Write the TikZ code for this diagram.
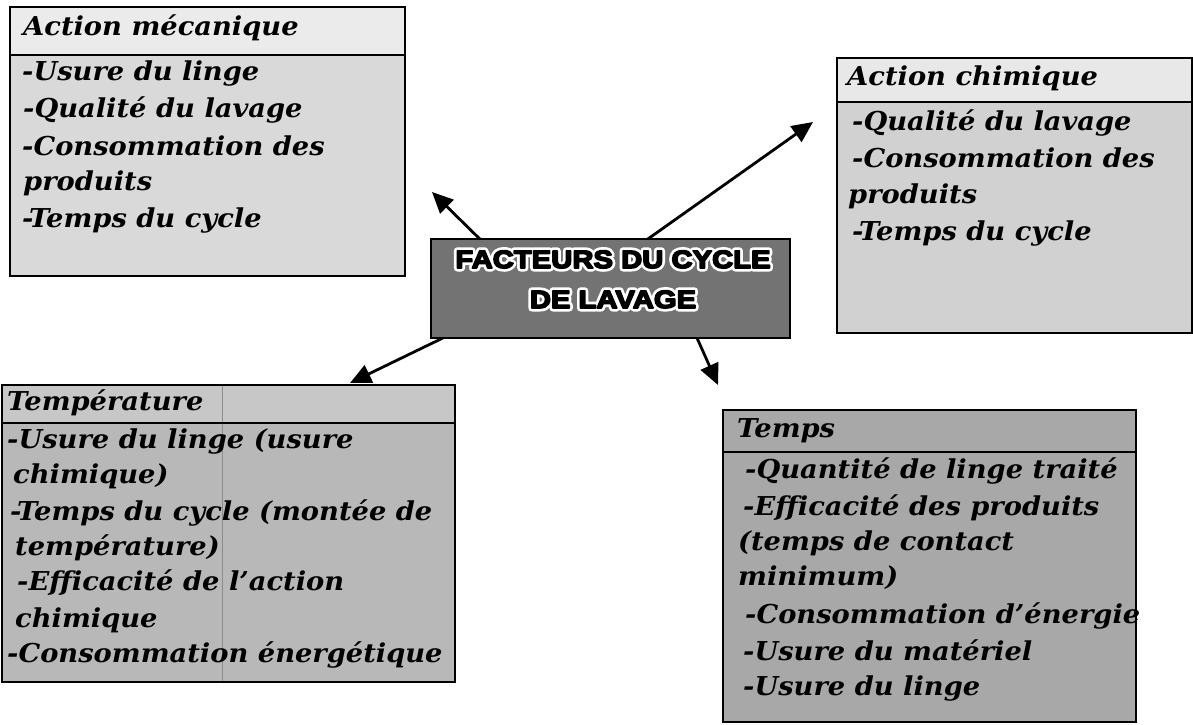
\documentclass[tikz,border=0pt]{standalone}
\usepackage{fontspec}
\usetikzlibrary{arrows.meta,calc}
\newfontfamily\handfont{DejaVu Serif}[FakeStretch=1.05]
\newfontfamily\ttlfont{Liberation Sans}[FakeStretch=1.17]
\newcommand\haloed[1]{%
 \leavevmode
 \rlap{\special{pdf:literal direct 1 j 1 J 7 w 2 Tr}\textcolor{white}{#1}\special{pdf:literal direct 0 Tr 1 w}}%
 {\special{pdf:literal direct 1 j 1 J 1.6 w 2 Tr}\textcolor{black}{#1}\special{pdf:literal direct 0 Tr 1 w}}}
\begin{document}
\begin{tikzpicture}[x=1pt,y=-1pt,
  boxfill/.style={inner sep=0pt,outer sep=0pt,anchor=north west},
  boxline/.style={draw=black,line width=2pt},
  hand/.style={anchor=base west,inner sep=0pt,font=\handfont\bfseries\itshape\fontsize{26}{36}\selectfont},
  ttl/.style={anchor=base,inner sep=0pt,font=\ttlfont\bfseries\fontsize{25}{30}\selectfont},
  conn/.style={line width=2.8pt,-{Triangle[length=21pt,width=19pt]}}]
\useasboundingbox (0,0) rectangle (1193,724);
\fill[white] (0,0) rectangle (1193,724);

% Action mecanique
\node[boxfill,fill=black!15,minimum width=395pt,minimum height=269pt] (am) at (10,7) {};
\fill[black!8] (am.north west) rectangle ($(am.north east)+(0,48)$);
\draw[boxline] ($(am.north west)+(0,48)$) -- ($(am.north east)+(0,48)$);
\draw[boxline] (am.north west) rectangle (am.south east);
\node[hand] (am0) at (23,35) {Action mécanique};
\foreach \i/\x/\y/\t in {1/22/80/{-Usure du linge},2/23/117/{-Qualité du lavage},3/22/155/{-Consommation des},4/23/190/{produits},5/22/227/{-Temps du cycle}}
  \node[hand] (am\i) at (\x,\y) {\t};

% Action chimique
\node[boxfill,fill=black!18,minimum width=355pt,minimum height=275pt] (ac) at (837,58) {};
\fill[black!9] (ac.north west) rectangle ($(ac.north east)+(0,44)$);
\draw[boxline] ($(ac.north west)+(0,44)$) -- ($(ac.north east)+(0,44)$);
\draw[boxline] (ac.north west) rectangle (ac.south east);
\node[hand] (ac0) at (847,85) {Action chimique};
\foreach \i/\x/\y/\t in {1/852/130/{-Qualité du lavage},2/852/167/{-Consommation des},3/848/203/{produits},4/852/240/{-Temps du cycle}}
  \node[hand] (ac\i) at (\x,\y) {\t};

% Temperature
\node[boxfill,fill=black!28,minimum width=453pt,minimum height=297pt] (te) at (2,385) {};
\fill[black!22] (te.north west) rectangle ($(te.north east)+(0,38)$);
\draw[black!45,line width=0.7pt] (222,385) -- (222,682);
\draw[boxline] ($(te.north west)+(0,38)$) -- ($(te.north east)+(0,38)$);
\draw[boxline] (te.north west) rectangle (te.south east);
\node[hand] (te0) at (7,410) {Température};
\foreach \i/\x/\y/\t in {1/7/448/{-Usure du linge (usure},2/13/483/{chimique)},3/10/520/{-Temps du cycle (montée de},4/15/555/{température)},5/17/590/{-Efficacité de l’action},6/15/627/{chimique},7/7/662/{-Consommation énergétique}}
  \node[hand] (te\i) at (\x,\y) {\t};

% Temps
\node[boxfill,fill=black!34,minimum width=413pt,minimum height=312pt] (tp) at (723,410) {};
\draw[boxline] ($(tp.north west)+(0,42)$) -- ($(tp.north east)+(0,42)$);
\draw[boxline] (tp.north west) rectangle (tp.south east);
\node[hand] (tp0) at (737,437) {Temps};
\foreach \i/\x/\y/\t in {1/745/478/{-Quantité de linge traité},2/743/515/{-Efficacité des produits},3/738/550/{(temps de contact},4/738/585/{minimum)},5/745/623/{-Consommation d’énergie},6/743/660/{-Usure du matériel},7/743/695/{-Usure du linge}}
  \node[hand] (tp\i) at (\x,\y) {\t};

% Centre
\node[boxfill,fill=black!55,minimum width=359pt,minimum height=99pt] (c) at (431,239) {};
\draw[line width=2.5pt] (c.north west) rectangle (c.south east);
\node[ttl] (t1) at (613,268) {\haloed{FACTEURS DU CYCLE}};
\node[ttl] (t2) at (613,308) {\haloed{DE LAVAGE}};

% connectors
\coordinate (s1) at ($(c.north west)!0.136!(c.north east)$);
\coordinate (s2) at ($(c.north west)!0.604!(c.north east)$);
\coordinate (s3) at ($(c.south west)!0.033!(c.south east)$);
\coordinate (s4) at ($(c.south west)!0.741!(c.south east)$);
\coordinate (e1) at (432,192);
\coordinate (e2) at (813,122);
\coordinate (e3) at (350,383);
\coordinate (e4) at (718,385);
\draw[conn] (s1) -- (e1);
\draw[conn] (s2) -- (e2);
\draw[conn] (s3) -- (e3);
\draw[conn] (s4) -- (e4);
\end{tikzpicture}
\end{document}
